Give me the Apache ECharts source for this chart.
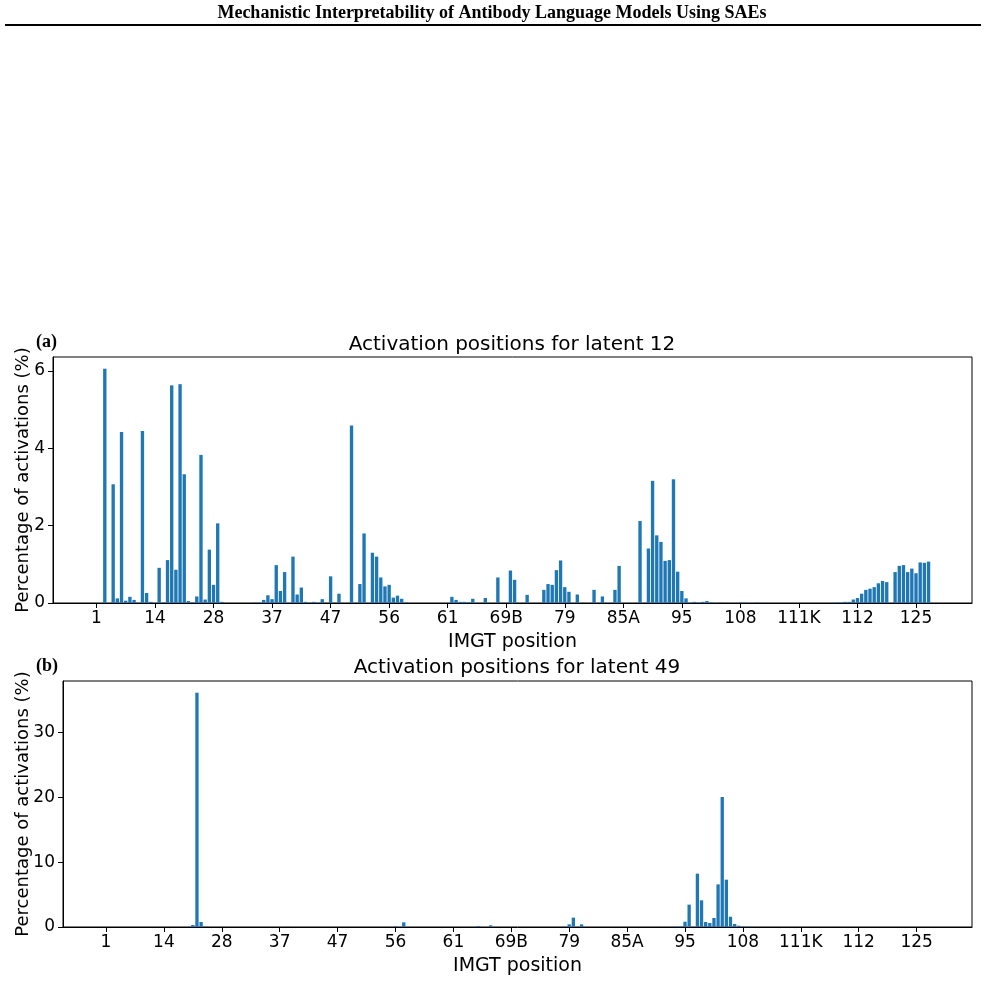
<!DOCTYPE html>
<html>
<head>
<meta charset="utf-8">
<script src="https://cdn.jsdelivr.net/npm/echarts@6/dist/echarts.min.js"></script>
<style>
  html, body { margin: 0; padding: 0; background: #fff; }
  #chart { width: 985px; height: 981px; }
</style>
</head>
<body>
<div id="chart"></div>
<script>
// IMGT tick labels, one every 14 positions (index 0, 14, 28 ... 196)
var tickLabels = ['1', '14', '28', '37', '47', '56', '61', '69B', '79', '85A', '95', '108', '111K', '112', '125'];
var tickStep = 14;

// percentage of activations per position index (200 positions)
var latent12 = [
  0, 0, 6.06, 0, 3.07, 0.12, 4.42, 0.06, 0.16, 0.08,
  0, 4.45, 0.26, 0.03, 0, 0.91, 0.01, 1.11, 5.63, 0.86,
  5.66, 3.33, 0.05, 0.01, 0.17, 3.83, 0.09, 1.38, 0.47, 2.06,
  0.03, 0, 0, 0, 0, 0, 0, 0, 0.01, 0.01,
  0.08, 0.2, 0.1, 0.98, 0.31, 0.8, 0, 1.2, 0.22, 0.4,
  0.03, 0, 0.03, 0, 0.1, 0, 0.69, 0, 0.24, 0,
  0, 4.59, 0, 0.49, 1.8, 0, 1.3, 1.2, 0.66, 0.43,
  0.47, 0.14, 0.19, 0.11, 0.01, 0, 0, 0, 0, 0,
  0, 0, 0, 0, 0, 0.16, 0.08, 0.03, 0.03, 0.02,
  0.11, 0, 0, 0.13, 0, 0, 0.66, 0, 0, 0.84,
  0.6, 0, 0, 0.21, 0, 0, 0, 0.34, 0.49, 0.47,
  0.85, 1.1, 0.41, 0.29, 0, 0.22, 0, 0, 0, 0.34,
  0, 0.17, 0, 0, 0.34, 0.96, 0, 0, 0, 0,
  2.12, 0, 1.41, 3.16, 1.75, 1.58, 1.09, 1.11, 3.2, 0.81,
  0.31, 0.12, 0, 0.03, 0.01, 0.03, 0.05, 0.01, 0, 0.01,
  0, 0, 0, 0, 0.01, 0.01, 0, 0, 0.01, 0,
  0, 0, 0, 0, 0, 0, 0, 0, 0, 0,
  0, 0, 0, 0, 0, 0, 0, 0.01, 0.01, 0.03,
  0.03, 0.09, 0.13, 0.24, 0.34, 0.37, 0.41, 0.51, 0.57, 0.54,
  0, 0.8, 0.96, 0.98, 0.8, 0.89, 0.77, 1.05, 1.04, 1.07
];

var latent49 = [
  0, 0, 0, 0, 0, 0, 0, 0, 0, 0,
  0, 0, 0, 0, 0, 0, 0, 0, 0, 0,
  0, 0.31, 36.15, 0.77, 0.05, 0, 0, 0, 0.03, 0,
  0, 0, 0, 0, 0, 0, 0, 0, 0, 0,
  0, 0, 0, 0, 0.05, 0, 0, 0, 0, 0,
  0, 0, 0, 0, 0, 0, 0, 0, 0, 0,
  0, 0, 0, 0, 0, 0, 0, 0, 0, 0,
  0.1, 0, 0.72, 0, 0, 0, 0, 0, 0, 0,
  0, 0, 0, 0, 0, 0, 0.02, 0.02, 0, 0,
  0.15, 0, 0, 0.26, 0, 0, 0, 0, 0, 0,
  0, 0, 0, 0, 0, 0, 0, 0, 0, 0,
  0.02, 0.03, 0.41, 1.44, 0, 0.41, 0, 0, 0, 0,
  0, 0, 0, 0, 0, 0, 0, 0, 0, 0,
  0, 0, 0, 0, 0.02, 0, 0, 0.05, 0.05, 0.1,
  0.82, 3.45, 0, 8.23, 4.12, 0.77, 0.62, 1.39, 6.58, 20.06,
  7.3, 1.59, 0.46, 0.2, 0.05, 0.03, 0.03, 0, 0, 0,
  0, 0, 0, 0, 0, 0, 0, 0, 0, 0,
  0, 0.02, 0, 0, 0, 0, 0, 0.02, 0, 0,
  0, 0, 0, 0, 0, 0, 0, 0, 0, 0,
  0, 0, 0, 0, 0, 0, 0, 0, 0, 0
];

var yTicks12 = [0, 2, 4, 6];
var yTicks49 = [0, 10, 20, 30];

var blue = '#1f77b4';
var sans = 'DejaVu Sans';

// matplotlib-like x limits: bar half width + 5% margin
function xLimits(n) {
  var span = (n - 1) + 0.8;
  return [-0.4 - 0.05 * span, n - 1 + 0.4 + 0.05 * span];
}
function yMax(arr) {
  return 1.05 * Math.max.apply(null, arr);
}

var xTickValues = tickLabels.map(function (_, k) { return k * tickStep; });
var xlim = xLimits(latent12.length);

function xAxisCfg(gridIndex) {
  return {
    type: 'value',
    gridIndex: gridIndex,
    min: xlim[0],
    max: xlim[1],
    name: 'IMGT position',
    nameLocation: 'middle',
    nameGap: 30,
    nameTextStyle: { fontFamily: sans, fontSize: 19, color: '#000' },
    axisLine: { onZero: false, lineStyle: { color: '#000', width: 1 } },
    axisTick: { show: true, length: 5, lineStyle: { color: '#000' }, customValues: xTickValues },
    axisLabel: {
      fontFamily: sans, fontSize: 17, color: '#000', margin: 7,
      customValues: xTickValues,
      formatter: function (v) { return tickLabels[Math.round(v / tickStep)]; }
    },
    splitLine: { show: false }
  };
}

function yAxisCfg(gridIndex, max, ticks, gap) {
  return {
    type: 'value',
    gridIndex: gridIndex,
    min: 0,
    max: max,
    name: 'Percentage of activations (%)',
    nameLocation: 'middle',
    nameGap: gap,
    nameMoveOverlap: false,
    nameTextStyle: { fontFamily: sans, fontSize: 18, color: '#000' },
    axisLine: { show: true, onZero: false, lineStyle: { color: '#000', width: 1 } },
    axisTick: { show: true, length: 5, lineStyle: { color: '#000' }, customValues: ticks },
    axisLabel: { fontFamily: sans, fontSize: 17, color: '#000', margin: 8, customValues: ticks },
    splitLine: { show: false }
  };
}

function toPoints(arr) {
  return arr.map(function (v, i) { return [i, v]; });
}

var chart = echarts.init(document.getElementById('chart'), null, { renderer: 'canvas' });

var option = {
  animation: false,
  backgroundColor: '#fff',
  grid: [
    { left: 53, right: 13, top: 357, height: 246, containLabel: false, outerBoundsMode: 'none', show: true, borderColor: '#000', borderWidth: 1, backgroundColor: 'transparent' },
    { left: 63, right: 13, top: 681, height: 246, containLabel: false, outerBoundsMode: 'none', show: true, borderColor: '#000', borderWidth: 1, backgroundColor: 'transparent' }
  ],
  xAxis: [xAxisCfg(0), xAxisCfg(1)],
  yAxis: [
    yAxisCfg(0, yMax(latent12), yTicks12, 21),
    yAxisCfg(1, yMax(latent49), yTicks49, 31)
  ],
  series: [
    { type: 'bar', name: 'latent 12', xAxisIndex: 0, yAxisIndex: 0, barWidth: '80%', itemStyle: { color: blue }, data: toPoints(latent12) },
    { type: 'bar', name: 'latent 49', xAxisIndex: 1, yAxisIndex: 1, barWidth: '80%', itemStyle: { color: blue }, data: toPoints(latent49) }
  ],
  graphic: [
    { type: 'text', x: 492, y: 13, style: { text: 'Mechanistic Interpretability of Antibody Language Models Using SAEs', font: 'bold 18px "Liberation Serif"', fill: '#000', textAlign: 'center', textVerticalAlign: 'middle' } },
    { type: 'rect', shape: { x: 5, y: 24, width: 976, height: 2 }, style: { fill: '#000' } },
    { type: 'text', x: 36, y: 342, style: { text: '(a)', font: 'bold 18px "Liberation Serif"', fill: '#000', textAlign: 'left', textVerticalAlign: 'middle' } },
    { type: 'text', x: 512, y: 345, style: { text: 'Activation positions for latent 12', font: '20px "DejaVu Sans"', fill: '#000', textAlign: 'center', textVerticalAlign: 'middle' } },
    { type: 'text', x: 36, y: 666, style: { text: '(b)', font: 'bold 18px "Liberation Serif"', fill: '#000', textAlign: 'left', textVerticalAlign: 'middle' } },
    { type: 'text', x: 517, y: 668, style: { text: 'Activation positions for latent 49', font: '20px "DejaVu Sans"', fill: '#000', textAlign: 'center', textVerticalAlign: 'middle' } }
  ]
};

chart.setOption(option);
</script>
</body>
</html>
